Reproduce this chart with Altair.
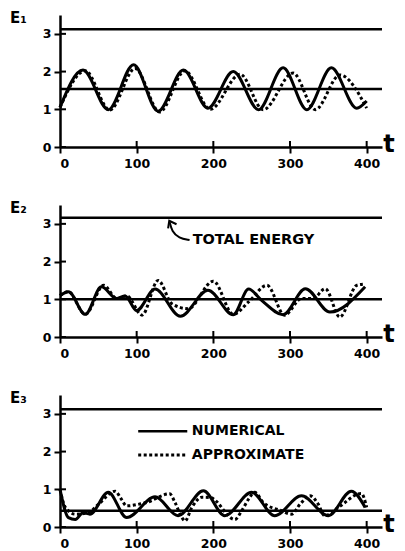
import altair as alt
import pandas as pd

# ---------------- data ----------------
T_MAX = 420
E_MAX = 3.5
tick_t = [0, 100, 200, 300, 400]
tick_e = [0, 1, 2, 3]

panel_names = ["E\u2081", "E\u2082", "E\u2083"]
total_energy = [3.12, 3.16, 3.12]
mean_level = [1.54, 1.0, 0.43]

# Panel 1
e1_num_t = [0, 30, 63, 96, 128, 161, 193, 226, 259, 291, 322, 354, 387, 400]
e1_num_e = [1.05, 2.04, 0.99, 2.18, 0.95, 2.04, 1.03, 2.0, 0.99, 2.1, 0.99, 2.1, 1.03, 1.22]
e1_app_t = [0, 33, 65, 98, 130, 163, 196, 235, 265, 304, 333, 365, 400]
e1_app_e = [1.05, 2.02, 0.98, 2.08, 0.93, 2.02, 1.0, 1.93, 0.99, 1.96, 0.99, 1.91, 1.03]

# Panel 2
e2_num_t = [0, 11, 33, 54, 74, 85, 100, 124, 157, 193, 226, 246, 263, 291, 320, 352, 398]
e2_num_e = [1.1, 1.2, 0.6, 1.33, 1.02, 1.09, 0.7, 1.27, 0.55, 1.24, 0.59, 1.27, 0.97, 0.59, 1.28, 0.66, 1.33]
e2_app_t = [0, 11, 33, 57, 74, 87, 107, 128, 146, 167, 200, 226, 246, 270, 293, 315, 330, 346, 365, 387, 395]
e2_app_e = [1.1, 1.2, 0.6, 1.37, 1.02, 1.09, 0.58, 1.5, 0.88, 0.75, 1.48, 0.6, 0.93, 1.37, 0.58, 1.02, 1.02, 1.28, 0.53, 1.37, 1.4]

# Panel 3
e3_num_t = [0, 11, 20, 30, 39, 63, 87, 124, 154, 187, 215, 250, 280, 315, 350, 380, 398]
e3_num_e = [1.0, 0.25, 0.2, 0.38, 0.34, 0.92, 0.25, 0.8, 0.3, 0.96, 0.3, 0.92, 0.3, 0.83, 0.3, 0.95, 0.52]
e3_app_t = [0, 7, 20, 37, 50, 72, 80, 87, 102, 113, 143, 150, 159, 163, 172, 185, 196, 228, 237, 246,
            254, 265, 289, 302, 313, 326, 337, 345, 363, 393, 400]
e3_app_e = [1.0, 0.52, 0.34, 0.38, 0.6, 0.95, 0.74, 0.56, 0.6, 0.65, 0.88, 0.65, 0.25, 0.16, 0.52, 0.79,
            0.78, 0.2, 0.43, 0.74, 0.92, 0.65, 0.43, 0.34, 0.6, 0.83, 0.6, 0.3, 0.52, 0.89, 0.52]

# Annotations
note_text = "TOTAL ENERGY"
note_pos = (173, 2.57)
arrow_shaft_t = [143, 146, 155, 169]
arrow_shaft_e = [3.05, 2.8, 2.62, 2.57]
arrow_head_t = [141, 142.5, 152]
arrow_head_e = [2.88, 3.08, 2.99]

legend_labels = ["NUMERICAL", "APPROXIMATE"]
legend_e = [2.54, 1.91]
legend_t = (102, 166)
legend_text_t = 172

FONT = "DejaVu Sans"
W, H = 322, 132


def xenc():
    return alt.X("t:Q", scale=alt.Scale(domain=[0, T_MAX], nice=False, zero=False),
                 axis=alt.Axis(values=tick_t, title=None, format="d"))


def yenc():
    return alt.Y("E:Q", scale=alt.Scale(domain=[0, E_MAX], nice=False, zero=False),
                 axis=alt.Axis(values=tick_e, title=None, format="d"))


def panel(idx, num_t, num_e, app_t, app_e, extra=None):
    hl = pd.DataFrame({"t": [0, 0], "t2": [T_MAX, T_MAX],
                       "E": [total_energy[idx], mean_level[idx]]})
    layers = []
    layers.append(alt.Chart(hl).mark_rule(color="black", strokeWidth=2.5).encode(
        x=xenc(), x2="t2:Q", y=yenc()))
    layers.append(alt.Chart(pd.DataFrame({"t": num_t, "E": num_e})).mark_line(
        color="black", strokeWidth=3, interpolate="monotone").encode(x=xenc(), y=yenc()))
    layers.append(alt.Chart(pd.DataFrame({"t": app_t, "E": app_e})).mark_line(
        color="black", strokeWidth=3, strokeDash=[3, 2.5], interpolate="monotone").encode(
        x=xenc(), y=yenc()))
    # inward halves of the crossing ticks
    layers.append(alt.Chart(pd.DataFrame({"E": tick_e})).mark_rule(
        color="black", strokeWidth=2).encode(y=yenc(), x=alt.value(0), x2=alt.value(6)))
    layers.append(alt.Chart(pd.DataFrame({"t": tick_t[1:]})).mark_rule(
        color="black", strokeWidth=2).encode(x=xenc(), y=alt.value(H - 6), y2=alt.value(H)))
    # panel name and t label
    layers.append(alt.Chart(pd.DataFrame({"lab": [panel_names[idx]]})).mark_text(
        align="left", baseline="middle", font=FONT, fontWeight="bold", fontSize=15,
        color="black").encode(text="lab:N", x=alt.value(-50), y=alt.value(3)))
    layers.append(alt.Chart(pd.DataFrame({"lab": ["t"]})).mark_text(
        align="center", baseline="middle", font=FONT, fontWeight="bold", fontSize=24,
        color="black").encode(text="lab:N", x=alt.value(W + 7), y=alt.value(H - 2)))
    if extra:
        layers.extend(extra)
    return alt.layer(*layers).properties(width=W, height=H)


# panel 2 annotation
note = alt.Chart(pd.DataFrame({"t": [note_pos[0]], "E": [note_pos[1]], "lab": [note_text]})).mark_text(
    align="left", baseline="middle", font=FONT, fontWeight="bold", fontSize=14.5, color="black").encode(
    x=xenc(), y=yenc(), text="lab:N")
shaft = alt.Chart(pd.DataFrame({"t": arrow_shaft_t, "E": arrow_shaft_e})).mark_line(
    color="black", strokeWidth=2, interpolate="basis").encode(x=xenc(), y=yenc())
head = alt.Chart(pd.DataFrame({"t": arrow_head_t, "E": arrow_head_e})).mark_line(
    color="black", strokeWidth=2).encode(x=xenc(), y=yenc())

# panel 3 legend
leg_line_df = pd.DataFrame({"t": [legend_t[0]] * 2, "t2": [legend_t[1]] * 2, "E": legend_e})
leg_text_df = pd.DataFrame({"t": [legend_text_t] * 2, "E": legend_e, "lab": legend_labels})
leg_solid = alt.Chart(leg_line_df.iloc[[0]]).mark_rule(color="black", strokeWidth=2.5).encode(
    x=xenc(), x2="t2:Q", y=yenc())
leg_dot = alt.Chart(leg_line_df.iloc[[1]]).mark_rule(color="black", strokeWidth=3, strokeDash=[3, 2.5]).encode(
    x=xenc(), x2="t2:Q", y=yenc())
leg_text = alt.Chart(leg_text_df).mark_text(align="left", baseline="middle", font=FONT, fontWeight="bold",
                                            fontSize=14, color="black").encode(
    x=xenc(), y=yenc(), text="lab:N")

p1 = panel(0, e1_num_t, e1_num_e, e1_app_t, e1_app_e)
p2 = panel(1, e2_num_t, e2_num_e, e2_app_t, e2_app_e, [note, shaft, head])
p3 = panel(2, e3_num_t, e3_num_e, e3_app_t, e3_app_e, [leg_solid, leg_dot, leg_text])

chart = alt.vconcat(p1, p2, p3, spacing=58, bounds="flush").properties(
    padding={"left": 10, "top": 11, "right": 2, "bottom": 26},
    background="white",
).configure_view(stroke=None).configure_axis(
    domainColor="black", domainWidth=2.5, tickColor="black", tickWidth=2, tickSize=6,
    labelFont=FONT, labelFontWeight="bold", labelFontSize=12.5, labelColor="black",
    labelPadding=3, grid=False,
).configure_axisX(labelPadding=4)

chart.save("out.html", embed_options={"renderer": "svg", "actions": False})
